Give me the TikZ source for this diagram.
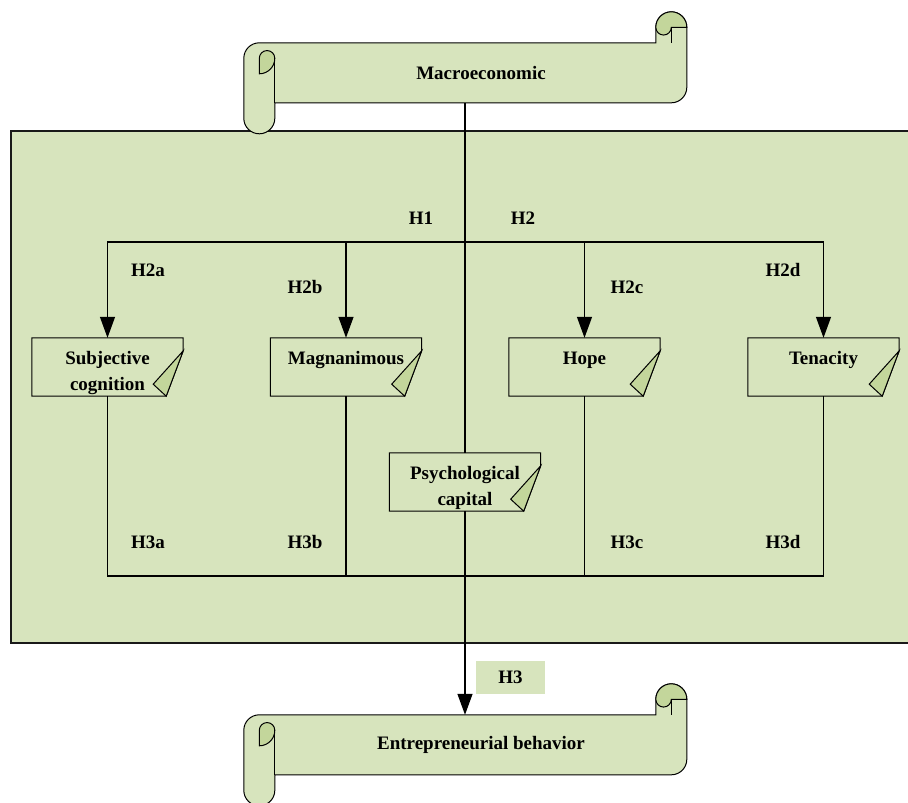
\documentclass[tikz,border=0pt]{standalone}
\usepackage{fontspec}
\setmainfont{Liberation Serif}
\usetikzlibrary{arrows.meta,backgrounds}

\definecolor{panelgreen}{HTML}{D7E4BD}
\definecolor{curlgreen}{HTML}{C3D69B}

\tikzset{
	lbl/.style={font=\bfseries\fontsize{19}{26.5}\selectfont},
	notebox/.style={lbl, minimum width=151pt, minimum height=58pt, inner sep=0pt, align=center, text height=25pt, text depth=31pt},
	notetwo/.style={notebox, text height=51.5pt, text depth=4.5pt},
	scrollbox/.style={lbl, minimum width=412pt, minimum height=60pt, inner sep=0pt},
	conn/.style={line width=1.3pt},
	tip/.style={-{Triangle[width=15pt,length=21pt]}},
	outline/.style={draw=black, line width=1pt, fill=panelgreen},
	curl/.style={draw=black, line width=1pt, fill=curlgreen}
}

% scroll banner round a node that covers its text part
\newcommand{\drawscroll}[1]{%
	\begin{scope}[shift={([xshift=-31pt]#1.north west)}]
	\filldraw[outline] (0,-15.5) arc (180:90:15.5) -- (412,0) -- (412,15.5) arc (180:0:15.5)
		-- (443,-44.5) arc (0:-90:15.5) -- (31,-60) -- (31,-75.5) arc (0:-180:15.5) -- cycle;
	\filldraw[curl] (15.5,-31) -- (15.5,-15.5) arc (180:0:7.75) arc (0:-90:15.5) -- cycle;
	\draw[outline,fill=none] (31,-15.5) -- (31,-60);
	\filldraw[curl] (443,15.5) arc (0:180:15.5) arc (180:360:7.75) -- cycle;
	\draw[outline,fill=none] (427.5,0) -- (427.5,15.5);
	\end{scope}}

% note with folded corner
\newcommand{\foldbox}[1]{%
	\filldraw[outline] (#1.north west) -- (#1.north east) -- ([yshift=-13pt]#1.north east)
		-- ([xshift=-17pt]#1.south east) -- (#1.south west) -- cycle;
	\filldraw[curl] ([yshift=-13pt]#1.north east) -- ([xshift=-17pt]#1.south east)
		-- ([xshift=-30pt,yshift=12pt]#1.south east) -- cycle;}

\begin{document}
\begin{tikzpicture}[x=1pt,y=1pt]
	\useasboundingbox (0,0) rectangle (908,-803);
	
	\node[scrollbox] (macro) at (481,-73) {Macroeconomic};
	\node[scrollbox] (entre) at (481,-745) {Entrepreneurial behavior};
	
	\node[notetwo] (subj) at (107.5,-367) {Subjective\\cognition};
	\node[notebox] (magn) at (346,-367) {Magnanimous};
	\node[notebox] (hope) at (584.5,-367) {Hope};
	\node[notebox] (tena) at (823.5,-367) {Tenacity};
	\node[notetwo] (psyc) at (465,-482) {Psychological\\capital};
	
	\node[lbl, fill=panelgreen, minimum width=69pt, minimum height=33pt, inner sep=0pt] (h3) at (510.5,-677.5) {H3};
	
	\node[lbl] (h1) at (421,-218) {H1};
	\node[lbl] (h2) at (523,-218) {H2};
	\node[lbl] (h2a) at (148,-270) {H2a};
	\node[lbl] (h2b) at (305,-287) {H2b};
	\node[lbl] (h2c) at (627,-287) {H2c};
	\node[lbl] (h2d) at (783,-270) {H2d};
	\node[lbl] (h3a) at (148,-542) {H3a};
	\node[lbl] (h3b) at (305,-542) {H3b};
	\node[lbl] (h3c) at (627,-542) {H3c};
	\node[lbl] (h3d) at (783,-542) {H3d};
	
	\coordinate (bus) at (465,-242);
	\coordinate (lowbus) at (465,-576);
	
	\draw[conn] (macro.south -| psyc.north) -- (psyc.north);
	\draw[conn,tip] (psyc.south) -- (psyc.south |- entre.north);
	
	\foreach \n in {subj,magn,hope,tena}
	{
	\draw[conn,tip] (bus) -| (\n);
	\draw[conn] (\n) |- (lowbus);
	}
	
	\begin{scope}[on background layer]
	\draw[line width=2.2pt, draw=black!90, fill=panelgreen] (11,-131) rectangle (915,-643);
	\drawscroll{macro}
	\drawscroll{entre}
	\foreach \n in {subj,magn,hope,tena,psyc} {\foldbox{\n}}
	\end{scope}
\end{tikzpicture}
\end{document}
